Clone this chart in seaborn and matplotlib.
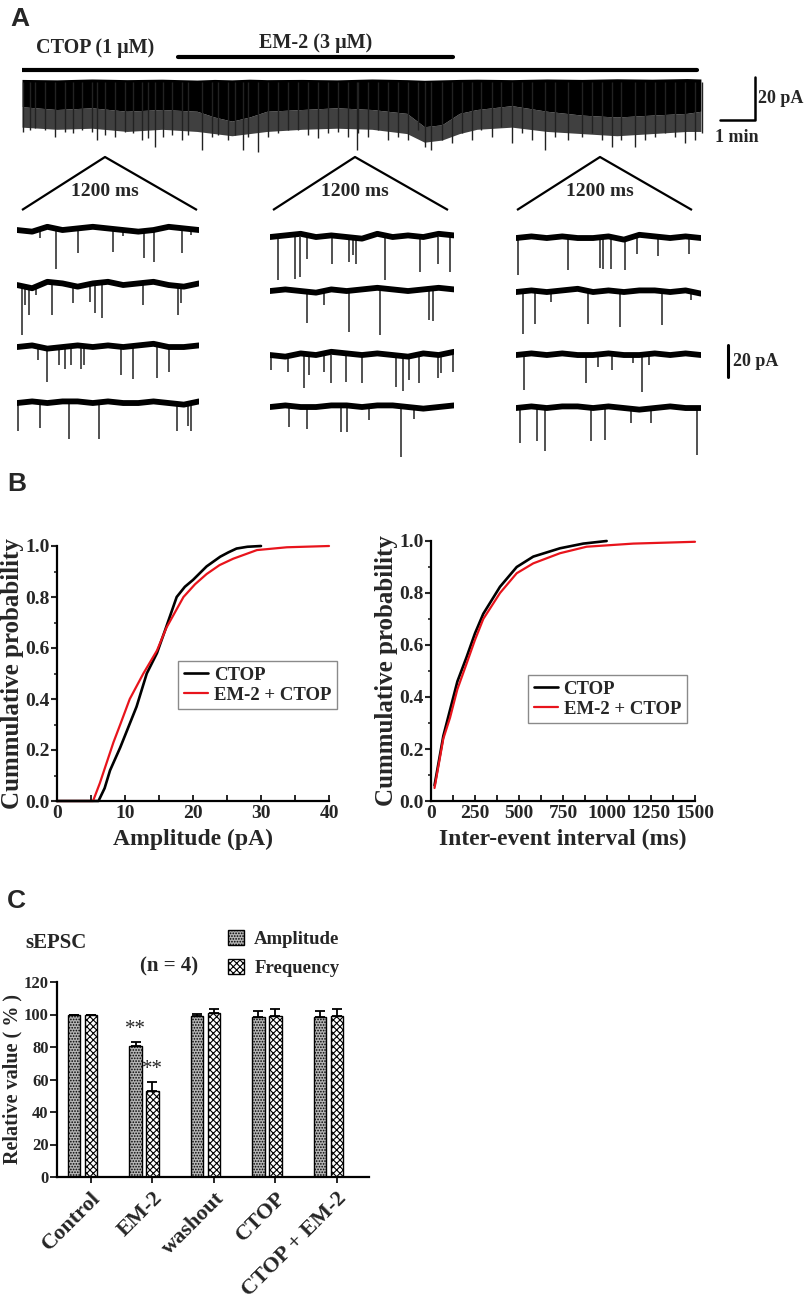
import numpy as np
import pandas as pd
import matplotlib
matplotlib.use("Agg")
import matplotlib.pyplot as plt
import seaborn as sns
from matplotlib.ticker import MultipleLocator
from matplotlib.patches import Patch

sns.set_style("ticks")
plt.rcParams["font.family"] = ["Liberation Serif", "DejaVu Serif"]
plt.rcParams["font.weight"] = "bold"
plt.rcParams["axes.labelweight"] = "bold"
plt.rcParams["hatch.linewidth"] = 0.8

W, H = 807, 1300

# ---------------- A: long recording (min, pA)
drug_ctop = [0.0, 19.3]
drug_em2 = [4.46, 12.31]
trace_t = [0, 1, 2, 3, 4, 5, 5.5, 6, 6.5, 7, 8, 9, 10, 11, 11.5, 12, 12.5, 13, 14, 15, 16, 17, 18, 19, 19.4]
trace_top = [1.2, 1.0, 1.4, 1.1, 1.3, 0.9, 1.2, 1.0, 1.3, 1.1, 1.2, 1.0, 1.4, 1.1, 0.8, 1.0, 1.2, 1.3, 1.1, 1.4, 1.2, 1.5, 1.3, 1.6, 1.4]
trace_core = [-11.5, -12.8, -12.0, -13.6, -12.8, -13.6, -16.3, -18.2, -16.3, -13.6, -12.8, -12.0, -12.8, -14.6, -20.8, -19.9, -14.6, -12.8, -11.0, -13.6, -15.4, -16.3, -15.4, -14.6, -13.6]
trace_fringe = [-21, -22, -21.5, -23, -22, -23, -24, -25, -24, -23, -22, -21.5, -22, -24, -28, -27, -24, -22, -21, -23, -24, -25, -24, -23, -23]
spike_t = [0.04, 0.23, 0.37, 0.66, 0.94, 1.23, 1.47, 1.71, 1.99, 2.13, 2.37, 2.66, 2.94, 3.18, 3.42,
           3.61, 3.80, 4.04, 4.28, 4.56, 4.75, 5.13, 5.42, 5.61, 5.89, 6.09, 6.32, 6.47, 6.75, 7.04,
           7.32, 7.61, 7.89, 8.18, 8.47, 8.75, 9.04, 9.32, 9.56, 9.61, 9.90, 10.18, 10.47, 10.75, 11.04,
           11.32, 11.51, 11.70, 11.99, 12.28, 12.56, 12.85, 13.13, 13.42, 13.70, 13.99, 14.28, 14.56, 14.94,
           15.23, 15.61, 15.99, 16.28, 16.56, 16.85, 17.13, 17.51, 17.80, 18.09, 18.37, 18.66, 18.94, 19.23, 19.42]
spike_amp = [23.1, 22.3, 21.5, 22.3, 25.4, 23.1, 23.9, 22.3, 23.1, 27.0, 24.7, 25.4, 23.1, 23.9, 27.0,
             26.2, 30.1, 25.4, 24.7, 27.0, 24.7, 31.6, 25.4, 24.7, 27.0, 24.7, 31.6, 25.4, 32.4, 25.4,
             23.9, 22.3, 22.3, 24.7, 26.2, 23.9, 23.1, 25.4, 31.6, 23.9, 25.4, 22.3, 27.0, 25.4, 27.0,
             22.3, 30.1, 31.6, 27.0, 28.5, 23.9, 27.0, 22.3, 25.4, 20.8, 28.5, 23.9, 27.0, 31.6,
             25.4, 27.0, 25.4, 23.9, 27.0, 30.1, 27.0, 30.1, 27.0, 25.4, 23.9, 25.4, 28.5, 27.0, 23.9]

# ---------------- A: 1200 ms sweeps (ms, pA), column by column
sweep_t = [
    [150, 258, 404, 635, 700, 835, 902, 1089, 1150],
    [30, 52, 78, 128, 230, 372, 480, 515, 559, 830, 1063, 1084],
    [139, 200, 280, 319, 356, 422, 443, 687, 763, 921, 1002],
    [5, 150, 346, 541, 1058, 1128, 1145],
    [52, 165, 198, 241, 404, 517, 539, 563, 752, 976, 1095, 1176],
    [241, 350, 513, 719, 1035, 1063],
    [5, 117, 220, 252, 350, 398, 496, 600, 822, 867, 904, 974, 1093, 1115, 1193],
    [122, 241, 463, 502, 643, 856, 937],
    [13, 339, 546, 567, 617, 704, 785, 921, 1121],
    [46, 122, 230, 465, 676, 948, 1132],
    [50, 454, 530, 621, 758, 817, 861],
    [24, 139, 191, 487, 578, 748, 878, 1176],
]
sweep_amp = [
    [5, 24, 14.5, 13.5, 4, 17.5, 20, 14.5, 3],
    [31, 12.5, 18.7, 6, 18.7, 11.5, 10.4, 17.7, 20.8, 12.5, 18.7, 11.5],
    [8.3, 21.9, 11.5, 13.5, 11.5, 13.5, 11.5, 17.7, 19.8, 19.2, 15.6],
    [17.7, 15.6, 22.3, 22.3, 17.7, 14.6, 17.7],
    [27, 26, 25, 13.5, 16.7, 15.6, 11.5, 16.7, 27, 21.9, 16.7, 21.9],
    [20.2, 8.75, 25.4, 27.5, 18.1, 18.75],
    [9.4, 10.4, 20.8, 12.5, 10.4, 17.7, 16.7, 17.7, 19.8, 22.5, 15.6, 17.7, 14.6, 11.5, 10.4],
    [12.5, 13.5, 15.6, 15.6, 8.3, 31.25, 7.3],
    [22.9, 19.8, 18.75, 19.2, 19.2, 19.8, 10, 11.5, 10],
    [26, 19.8, 6, 19.8, 21.9, 20.8, 5],
    [21.9, 17.7, 7.3, 9.4, 5, 22.9, 6.25],
    [21.9, 20.8, 27, 20.8, 19.8, 9.4, 9.4, 29.2],
]
drift_t = [0, 100, 200, 300, 400, 500, 600, 700, 800, 900, 1000, 1100, 1200]
sweep_drift = [
    [0, -1, 2, 0, 1, 2, 1, 0, -1, 0, 2, 1, 0],
    [0, -2, 2, 1, -1, 1, 2, 0, 1, 2, 0, -1, 1],
    [0, 1, -1, 0, 1, 0, 1, 0, 1, 2, 0, 0, 1],
    [0, 1, 0, 1, 1, 0, 1, 0, 0, 1, 0, -1, 1],
    [0, 1, 2, 0, 1, 0, -1, 2, 0, 1, 0, 2, 1],
    [0, 1, 0, -1, 1, 0, 1, 2, 1, 0, 1, 2, 1],
    [0, -1, 1, 0, 2, 1, 0, 1, 0, -1, 1, 0, 2],
    [0, 1, 0, 0, 1, 1, 0, 1, 1, 0, -1, 0, 1],
    [0, 1, 0, 1, 0, 0, 1, -1, 2, 1, 0, 1, 0],
    [0, 1, 0, 1, 2, 0, 1, 0, 1, 1, 0, 1, -1],
    [0, 1, 0, 1, 0, 0, 1, 0, 0, 1, 0, 1, 0],
    [0, 1, 0, 1, 1, 0, 1, 0, -1, 0, 1, 0, 0],
]

# ---------------- B: cumulative distributions
amp_ctop_x = [0, 6.1, 7.0, 7.8, 9.3, 10.5, 11.7, 13.2, 14.7, 15.9, 17.6, 18.8, 20.0, 22.0, 24.0, 25.2, 26.4, 28.0, 30.0]
amp_ctop_y = [0, 0, 0.05, 0.12, 0.21, 0.29, 0.37, 0.50, 0.58, 0.67, 0.80, 0.84, 0.867, 0.92, 0.958, 0.975, 0.99, 0.997, 1.0]
amp_em2_x = [0, 5.3, 6.3, 7.3, 8.3, 9.3, 10.7, 12.7, 14.7, 16.1, 18.6, 20.3, 22.0, 23.9, 25.9, 29.4, 33.8, 40]
amp_em2_y = [0, 0, 0.07, 0.15, 0.23, 0.30, 0.40, 0.50, 0.59, 0.68, 0.80, 0.85, 0.89, 0.925, 0.95, 0.984, 0.995, 1.0]
iei_ctop_x = [20, 70, 108, 150, 203, 250, 297, 392, 487, 581, 733, 865, 998]
iei_ctop_y = [0.06, 0.25, 0.35, 0.46, 0.555, 0.645, 0.72, 0.824, 0.90, 0.94, 0.972, 0.99, 1.0]
iei_em2_x = [20, 70, 108, 150, 203, 250, 297, 392, 487, 581, 733, 884, 1149, 1500]
iei_em2_y = [0.05, 0.24, 0.32, 0.43, 0.53, 0.62, 0.70, 0.80, 0.876, 0.914, 0.953, 0.978, 0.99, 0.997]

# ---------------- C: relative sEPSC values
conditions = ["Control", "EM-2", "washout", "CTOP", "CTOP + EM-2"]
amp_mean = [100, 80.8, 99.3, 98.4, 98.7]
amp_sem = [0, 2.5, 0.9, 3.5, 3.2]
freq_mean = [100, 53.2, 101.0, 99.3, 98.8]
freq_sem = [0, 5.5, 2.6, 4.1, 4.8]
sig_marks = ["", "**", "", "", ""]


def box(l, t, r, b):
    return [l / W, 1 - b / H, (r - l) / W, (b - t) / H]


fig = plt.figure(figsize=(W / 100, H / 100), dpi=100)
ov = fig.add_axes([0, 0, 1, 1])
ov.set_xlim(0, W)
ov.set_ylim(H, 0)
ov.axis("off")

for lab, x, y in [("A", 10, 7), ("B", 7, 472), ("C", 7, 889)]:
    ov.text(x, y, lab, fontfamily="Liberation Sans", fontsize=19, fontweight="bold", va="top")

# zoom triangles
for apex, (l, r) in zip([105, 355, 600], [(22, 197), (273, 448), (517, 692)]):
    ov.plot([l, apex, r], [210, 157, 210], color="black", lw=1.6, solid_capstyle="butt")
    ov.text(apex, 192, "1200 ms", ha="center", va="center", fontsize=14)

# long trace
ax = fig.add_axes(box(22, 35, 780, 155))
ax.set_xlim(0, 21.66)
ax.set_ylim(-33.95, 21.86)
ax.axis("off")
ax.fill_between(trace_t, trace_fringe, trace_core, color="#404040", lw=0)
ax.vlines(spike_t, [-a for a in spike_amp], 0, color="#222222", lw=1.0)
ax.fill_between(trace_t, trace_core, trace_top, color="black", lw=0)
ax.plot(drug_ctop, [5.6, 5.6], color="black", lw=3)
ax.plot(drug_em2, [11.6, 11.6], color="black", lw=3)
ax.text(2.09, 15.8, "CTOP (1 μM)", ha="center", va="center", fontsize=14.5)
ax.text(np.mean(drug_em2), 18.2, "EM-2 (3 μM)", ha="center", va="center", fontsize=14.5)
# scale bar: 1 min, 20 pA
sb_x, sb_y = 19.94, -17.7
ax.plot([sb_x, sb_x + 1, sb_x + 1], [sb_y, sb_y, sb_y + 20], color="black", lw=1.8, clip_on=False)
ax.text(sb_x + 1.1, sb_y + 10, "20 pA", ha="left", va="center", fontsize=13)
ax.text(sb_x + 0.5, sb_y - 4, "1 min", ha="center", va="top", fontsize=13)

# sweeps
col_x = [(17, 199), (270, 454), (516, 701)]
base_y = [[230, 285, 347, 403], [237, 291, 355, 407], [238, 292, 355, 408]]
for c in range(3):
    for r in range(4):
        i = c * 4 + r
        b = base_y[c][r]
        sax = fig.add_axes(box(col_x[c][0], b - 8, col_x[c][1], b + 53))
        sax.set_xlim(0, 1200)
        sax.set_ylim(-33, 5)
        sax.axis("off")
        sax.vlines(sweep_t[i], [-a for a in sweep_amp[i]], 0, color="#222222", lw=1.1)
        sax.plot(drift_t, sweep_drift[i], color="black", lw=4.2)
        if c == 2 and r == 2:
            sax.plot([1376, 1376], [6.25, -13.75], color="black", lw=2.2, clip_on=False)
            sax.text(1410, -3.75, "20 pA", ha="left", va="center", fontsize=13)

# ---------------- B
def cdf_axes(rect, xmax, major, minor, xlabel):
    a = fig.add_axes(box(*rect))
    a.set_xlim(0, xmax)
    a.set_ylim(0, 1.0)
    a.xaxis.set_major_locator(MultipleLocator(major))
    a.xaxis.set_minor_locator(MultipleLocator(minor))
    a.yaxis.set_major_locator(MultipleLocator(0.2))
    a.yaxis.set_minor_locator(MultipleLocator(0.1))
    a.yaxis.set_major_formatter(matplotlib.ticker.FormatStrFormatter("%.1f"))
    sns.despine(ax=a)
    for s in ["left", "bottom"]:
        a.spines[s].set_linewidth(1.6)
        a.spines[s].set_color("black")
    a.tick_params(axis="y", which="major", direction="out", length=4, width=1.5, labelsize=14, pad=1)
    a.tick_params(axis="y", which="minor", direction="out", length=2, width=1.2)
    a.tick_params(axis="x", which="both", direction="in", length=4, width=1.4, labelsize=14, pad=3)
    a.set_xlabel(xlabel, fontsize=17, labelpad=5)
    a.set_ylabel("Cummulative probability", fontsize=18, labelpad=1)
    return a


b1 = cdf_axes((57, 546, 329, 801), 40, 10, 5, "Amplitude (pA)")
sns.lineplot(x=amp_ctop_x, y=amp_ctop_y, color="black", lw=1.9, ax=b1, label="CTOP", clip_on=False)
sns.lineplot(x=amp_em2_x, y=amp_em2_y, color="#e8141c", lw=1.6, ax=b1, label="EM-2 + CTOP", clip_on=False)
b2 = cdf_axes((431, 541, 695, 801), 1500, 250, 125, "Inter-event interval (ms)")
sns.lineplot(x=iei_ctop_x, y=iei_ctop_y, color="black", lw=1.9, ax=b2, label="CTOP", clip_on=False)
sns.lineplot(x=iei_em2_x, y=iei_em2_y, color="#e8141c", lw=1.6, ax=b2, label="EM-2 + CTOP", clip_on=False)
for a, anchor in [(b1, (0.445, 0.549)), (b2, (0.367, 0.485))]:
    leg = a.legend(loc="upper left", bbox_to_anchor=anchor, borderaxespad=0, fontsize=13.5,
                   handlelength=1.3, handletextpad=0.3, labelspacing=0.15, borderpad=0.3,
                   fancybox=False, framealpha=1)
    leg.get_frame().set_edgecolor("#8a8a8a")
    leg.get_frame().set_linewidth(1.0)

# ---------------- C
df = pd.DataFrame({
    "condition": conditions * 2,
    "measure": ["Amplitude"] * len(conditions) + ["Frequency"] * len(conditions),
    "value": amp_mean + freq_mean,
})
cx = fig.add_axes(box(57, 982, 369, 1177))
sns.barplot(data=df, x="condition", y="value", hue="measure", width=0.55, gap=0.27,
            palette=["#b5b5b5", "white"], edgecolor="black", linewidth=1.0, ax=cx, legend=False)
bars = sorted(cx.patches, key=lambda p: p.get_x())
amp_bars, freq_bars = bars[0::2], bars[1::2]
for p in amp_bars:
    p.set_hatch("......")
for p in freq_bars:
    p.set_hatch("xxxxx")
for group, means, sems in [(amp_bars, amp_mean, amp_sem), (freq_bars, freq_mean, freq_sem)]:
    xs = [p.get_x() + p.get_width() / 2 for p in group]
    cx.errorbar(xs, means, yerr=[[0] * len(sems), sems], fmt="none", ecolor="black",
                elinewidth=1.3, capsize=3.5, capthick=1.3)
ea = amp_bars[1]
ef = freq_bars[1]
cx.text(ea.get_x() + ea.get_width() / 2, amp_mean[1] + amp_sem[1] + 1.5, sig_marks[1],
        ha="center", va="bottom", fontsize=15, fontweight="normal")
cx.text(ef.get_x() + ef.get_width() / 2, freq_mean[1] + freq_sem[1] + 1.5, sig_marks[1],
        ha="center", va="bottom", fontsize=15, fontweight="normal")
cx.set_xlim(-0.415, 4.66)
cx.set_ylim(0, 120)
cx.yaxis.set_major_locator(MultipleLocator(20))
cx.set_xticks([p.get_x() + p.get_width() / 2 for p in freq_bars])
cx.set_xticklabels(conditions, rotation=45, ha="right", rotation_mode="anchor", fontsize=16)
cx.tick_params(axis="y", direction="out", length=5, width=1.4, labelsize=12, pad=1)
cx.tick_params(axis="x", direction="out", length=4, width=1.4, pad=4)
sns.despine(ax=cx)
for s in ["left", "bottom"]:
    cx.spines[s].set_linewidth(1.6)
    cx.spines[s].set_color("black")
cx.set_xlabel("")
cx.set_ylabel("Relative value ( % )", fontsize=14.5, labelpad=1)

ov.text(25, 943, "sEPSC", ha="left", va="center", fontsize=15)
ov.text(169, 966, "(n = 4)", ha="center", va="center", fontsize=15)
handles = [Patch(facecolor="#b5b5b5", edgecolor="black", hatch="......", label="Amplitude"),
           Patch(facecolor="white", edgecolor="black", hatch="xxxxx", label="Frequency")]
fig.legend(handles=handles, loc="upper left", bbox_to_anchor=(228 / W, 1 - 930 / H), frameon=False,
           fontsize=13.5, handlelength=0.85, handleheight=0.85, handletextpad=0.55, labelspacing=0.6,
           borderaxespad=0, borderpad=0)

fig.savefig("out.png", dpi=100)
